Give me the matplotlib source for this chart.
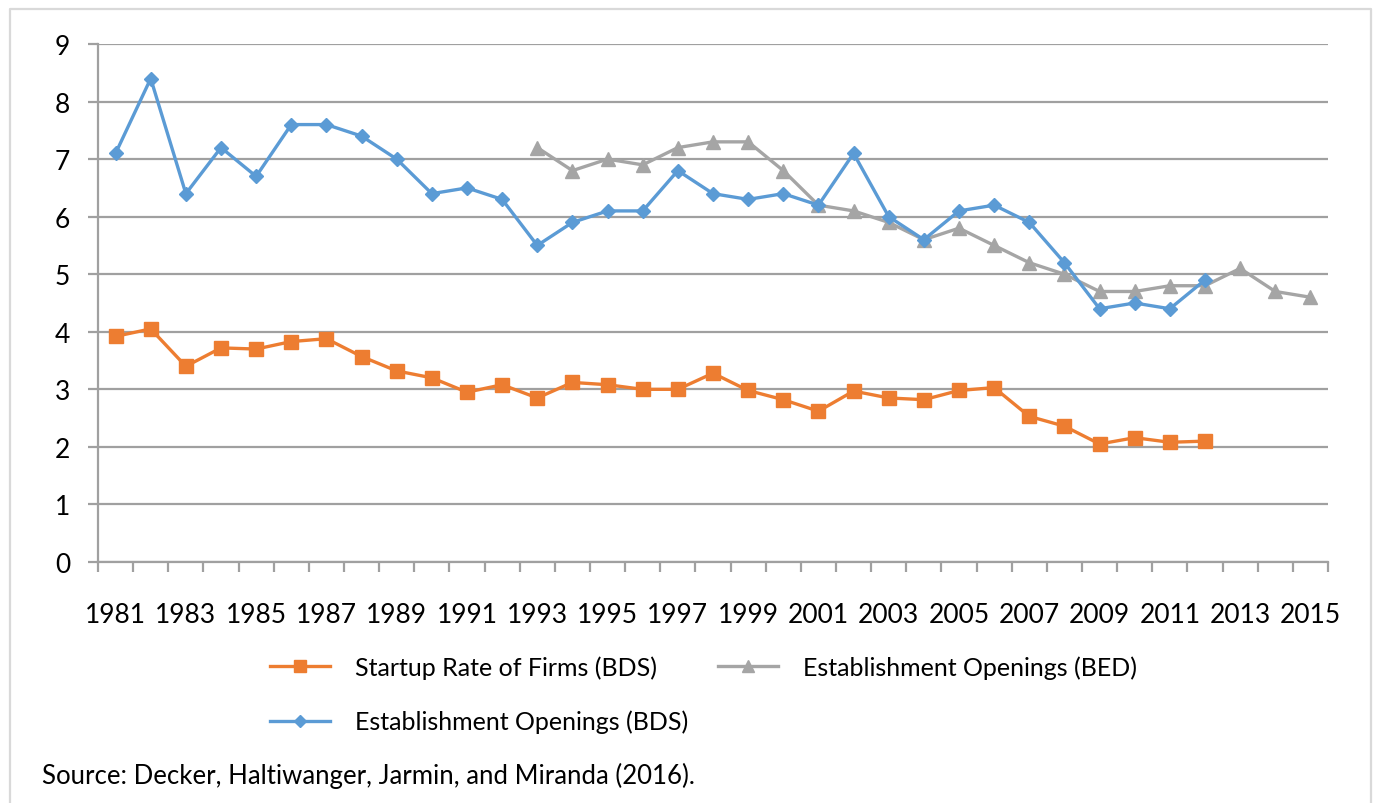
import matplotlib.pyplot as plt
import numpy as np

plt.rcParams['font.family'] = ['Lato', 'DejaVu Sans']

years = list(range(1981, 2016))

# startup rate of firms (BDS), 1981-2012
startup_bds = [3.92, 4.05, 3.40, 3.72, 3.70, 3.83, 3.88, 3.57, 3.32, 3.20,
               2.95, 3.08, 2.85, 3.12, 3.08, 3.00, 3.00, 3.28, 2.98, 2.82,
               2.62, 2.97, 2.85, 2.82, 2.98, 3.03, 2.53, 2.36, 2.05, 2.16,
               2.08, 2.10]

# establishment openings (BDS), 1981-2012
estab_bds = [7.1, 8.4, 6.4, 7.2, 6.7, 7.6, 7.6, 7.4, 7.0, 6.4,
             6.5, 6.3, 5.5, 5.9, 6.1, 6.1, 6.8, 6.4, 6.3, 6.4,
             6.2, 7.1, 6.0, 5.6, 6.1, 6.2, 5.9, 5.2, 4.4, 4.5,
             4.4, 4.9]

# establishment openings (BED), 1993-2015
bed_years = list(range(1993, 2016))
estab_bed = [7.2, 6.8, 7.0, 6.9, 7.2, 7.3, 7.3, 6.8, 6.2, 6.1,
             5.9, 5.6, 5.8, 5.5, 5.2, 5.0, 4.7, 4.7, 4.8, 4.8,
             5.1, 4.7, 4.6]

tick_years = list(range(1981, 2016, 2))
source_note = "Source: Decker, Haltiwanger, Jarmin, and Miranda (2016)."

orange = '#ED7D31'
blue = '#5B9BD5'
grey = '#A5A5A5'
axis_grey = '#a0a0a0'

W, H = 1376, 804
fig = plt.figure(figsize=(W / 100, H / 100), dpi=100)
ax = fig.add_axes([98 / W, 1 - 563 / H, (1328 - 98) / W, (563 - 45) / H])

ax.plot(years[:len(startup_bds)], startup_bds, color=orange, lw=2.4,
        marker='s', ms=10, label='Startup Rate of Firms (BDS)', zorder=3)
ax.plot(years[:len(estab_bds)], estab_bds, color=blue, lw=2.4,
        marker='D', ms=7.5, label='Establishment Openings (BDS)', zorder=4)
ax.plot(bed_years, estab_bed, color=grey, lw=2.4,
        marker='^', ms=10, label='Establishment Openings (BED)', zorder=2)

ax.set_xlim(1980.5, 2015.5)
ax.set_ylim(0, 9)
ax.set_yticks(range(0, 10))
ax.yaxis.grid(True, color=axis_grey, lw=1.6)
ax.set_axisbelow(True)

ax.set_xticks(tick_years)
ax.set_xticklabels([str(y) for y in tick_years])
ax.set_xticks(np.arange(1980.5, 2016, 1), minor=True)
ax.tick_params(axis='x', which='major', length=0, pad=29, labelsize=19)
ax.tick_params(axis='x', which='minor', length=7, width=1.6, color=axis_grey, direction='out')
ax.tick_params(axis='y', length=7, width=1.6, color=axis_grey, pad=13, labelsize=19)

for s in ['top', 'right']:
    ax.spines[s].set_visible(False)
for s in ['left', 'bottom']:
    ax.spines[s].set_color(axis_grey)
    ax.spines[s].set_linewidth(1.6)

leg = fig.legend(loc='upper left', bbox_to_anchor=(270 / W, 1 - 656 / H),
                 ncol=2, frameon=False, fontsize=18, handlelength=2.4,
                 handletextpad=1.0, columnspacing=1.2, labelspacing=1.25,
                 borderpad=0, borderaxespad=0, markerscale=0.85)

fig.text(42 / W, 1 - 776 / H, source_note, fontsize=18.5, ha='left', va='center')

# light frame around the chart (open at the bottom)
fig.add_artist(plt.Line2D([10 / W, 10 / W, 1371 / W, 1371 / W],
                          [0, 1 - 10 / H, 1 - 10 / H, 0],
                          transform=fig.transFigure, color='#d9d9d9', lw=1.6))

fig.savefig('out.png', dpi=100, facecolor='white')
